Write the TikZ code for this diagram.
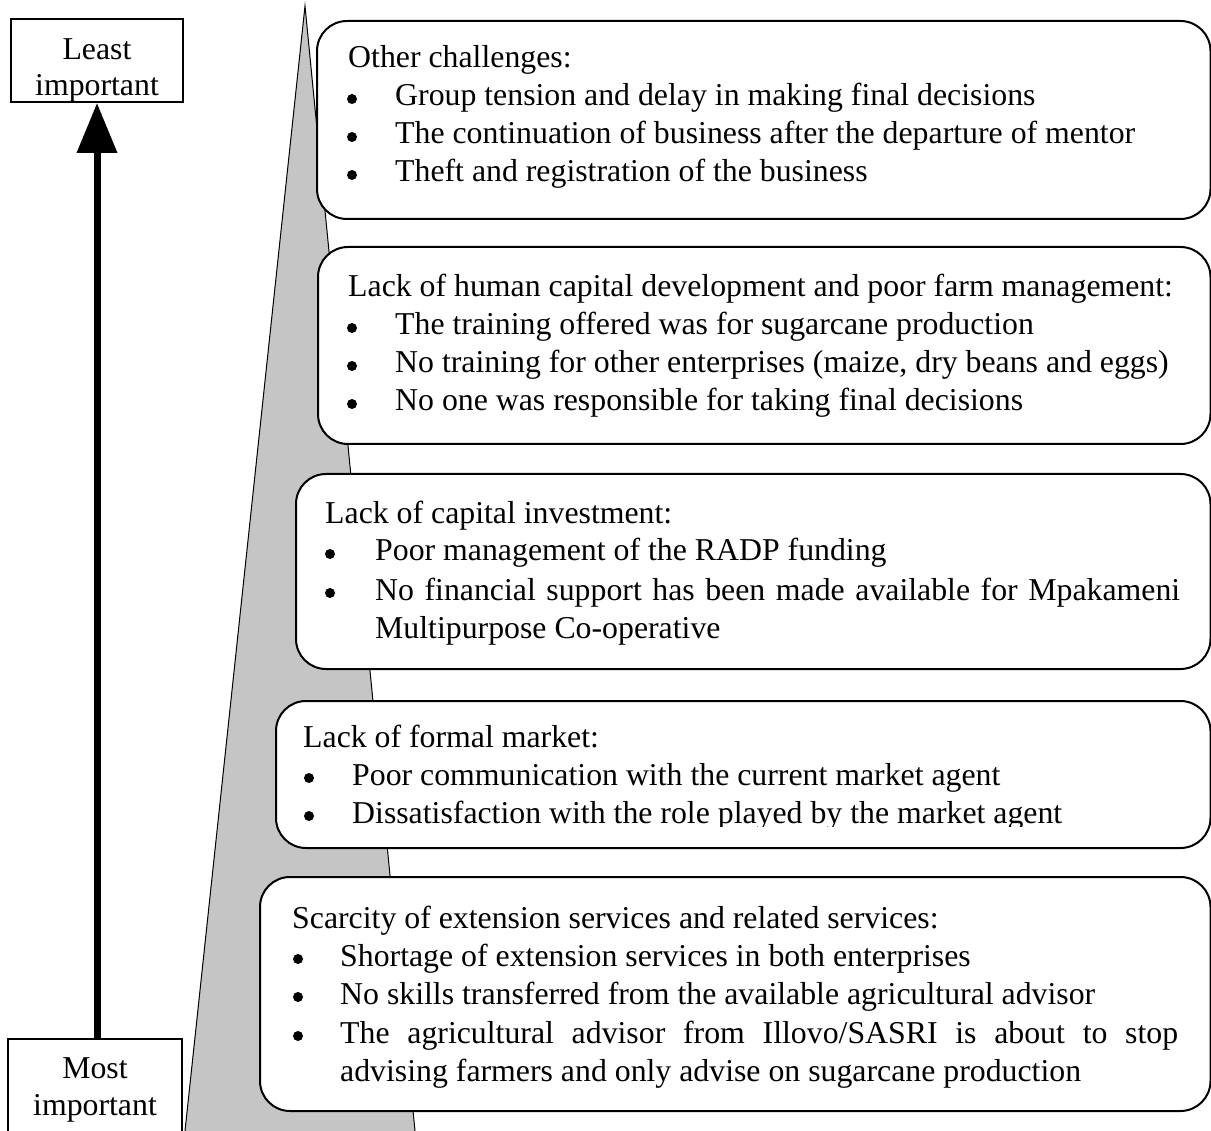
\documentclass[tikz,border=0pt]{standalone}
\usepackage{fontspec}
\setmainfont{Liberation Serif}
\usetikzlibrary{arrows.meta}
\definecolor{trigray}{RGB}{197,197,197}
\tikzset{
  every node/.style={font=\fontsize{31.8}{38}\selectfont},
  txt/.style={anchor=base west, inner sep=0pt},
  ctxt/.style={anchor=base, inner sep=0pt},
  dot/.style={circle, fill=black, inner sep=0pt, minimum size=10pt},
  rbox/.style={draw, line width=2pt, fill=white, rounded corners=30pt, anchor=north west, inner sep=0pt},
  sbox/.style={draw, line width=2pt, fill=white, inner sep=0pt},
  bigarrow/.style={line width=7pt, -{Triangle[length=50pt,width=39pt]}},
}
\newcommand\bul[3]{\node[dot] (#1) at (#2,#3-7) {};}
\begin{document}
\begin{tikzpicture}[x=1pt,y=-1pt]
\useasboundingbox (0,0) rectangle (1211,1131);
\clip (0,0) rectangle (1211,1131);
% pyramid
\coordinate (apex) at (305,6);
\coordinate (bl) at (185,1131);
\coordinate (br) at (415,1131);
\fill[trigray] (apex) -- (bl) -- (br) -- cycle;
\draw[line width=1pt] (bl) -- (apex) -- (br);
% left labels
\node[sbox, minimum width=172pt, minimum height=83pt] (least) at (97,60.5) {};
\node[ctxt] (least1) at (least.center |- 0,60) {Least};
\node[ctxt] (least2) at (least.center |- 0,96) {important};
\node[sbox, minimum width=174pt, minimum height=130pt, anchor=north] (most) at (95,1038) {};
\node[ctxt] (most1) at (95,1078) {Most};
\node[ctxt] (most2) at (95,1115) {important};
\draw[bigarrow] (least.south |- most.north) -- (least.south);
% box 1
\node[rbox, minimum width=893.5pt, minimum height=198pt] (box1) at (316,20) {};
\node[txt] (b1t) at (348,68) {Other challenges:};
\bul{b1d1}{352}{106}\node[txt] (b1a) at (395,106) {Group tension and delay in making final decisions};
\bul{b1d2}{352}{144}\node[txt] (b1b) at (395,144) {The continuation of business after the departure of mentor};
\bul{b1d3}{352}{182}\node[txt] (b1c) at (395,182) {Theft and registration of the business};
% box 2
\node[rbox, minimum width=892.5pt, minimum height=197pt] (box2) at (317,246) {};
\node[txt] (b2t) at (348,297) {Lack of human capital development and poor farm management:};
\bul{b2d1}{352}{335}\node[txt] (b2a) at (395,335) {The training offered was for sugarcane production};
\bul{b2d2}{352}{373}\node[txt] (b2b) at (395,373) {No training for other enterprises (maize, dry beans and eggs)};
\bul{b2d3}{352}{411}\node[txt] (b2c) at (395,411) {No one was responsible for taking final decisions};
% box 3
\node[rbox, minimum width=914.5pt, minimum height=195pt] (box3) at (295,473) {};
\node[txt] (b3t) at (325,523) {Lack of capital investment:};
\bul{b3d1}{330}{561}\node[txt] (b3a) at (375,561) {Poor management of the RADP funding};
\bul{b3d2}{330}{600}\node[txt] (b3b) at (375,600) {\makebox[805pt][s]{No financial support has been made available for Mpakameni}};
\node[txt] (b3c) at (375,638) {Multipurpose Co-operative};
% box 4
\node[rbox, minimum width=934.5pt, minimum height=147pt] (box4) at (275,700) {};
\node[txt] (b4t) at (303,747) {Lack of formal market:};
\bul{b4d1}{309}{785}\node[txt] (b4a) at (352,785) {Poor communication with the current market agent};
\bul{b4d2}{309}{823}
\begin{scope}
\clip (275,790) rectangle (1209,826);
\node[txt] (b4b) at (352,823) {Dissatisfaction with the role played by the market agent};
\end{scope}
% box 5
\node[rbox, minimum width=950.5pt, minimum height=234pt] (box5) at (259,876) {};
\node[txt] (b5t) at (292,928) {Scarcity of extension services and related services:};
\bul{b5d1}{298}{966}\node[txt] (b5a) at (340,966) {Shortage of extension services in both enterprises};
\bul{b5d2}{298}{1004}\node[txt] (b5b) at (340,1004) {No skills transferred from the available agricultural advisor};
\bul{b5d3}{298}{1043}\node[txt] (b5c) at (340,1043) {\makebox[838pt][s]{The agricultural advisor from Illovo/SASRI is about to stop}};
\node[txt] (b5d) at (340,1081) {advising farmers and only advise on sugarcane production};
\end{tikzpicture}
\end{document}
